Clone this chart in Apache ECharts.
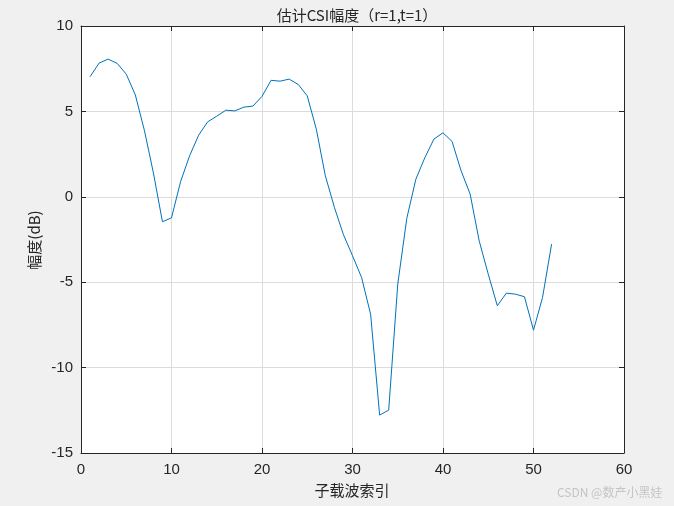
<!DOCTYPE html>
<html><head><meta charset="utf-8">
<script src="https://cdn.jsdelivr.net/npm/echarts@6/dist/echarts.min.js"></script>
<style>html,body{margin:0;padding:0;background:#f0f0f0}#c{width:674px;height:506px}</style>
</head><body><div id="c"></div>
<script>
const subcarriers = [1,2,3,4,5,6,7,8,9,10,11,12,13,14,15,16,17,18,19,20,21,22,23,24,25,26,27,28,29,30,31,32,33,34,35,36,37,38,39,40,41,42,43,44,45,46,47,48,49,50,51,52];
const amplitudeDb = [7.03,7.83,8.06,7.81,7.18,5.97,3.9,1.4,-1.46,-1.23,0.88,2.40,3.61,4.39,4.72,5.07,5.03,5.25,5.31,5.88,6.82,6.77,6.89,6.58,5.91,3.96,1.23,-0.62,-2.22,-3.45,-4.72,-6.87,-12.78,-12.49,-5.11,-1.26,1.03,2.30,3.38,3.75,3.24,1.52,0.16,-2.58,-4.53,-6.38,-5.64,-5.70,-5.85,-7.81,-5.89,-2.77];
const xTicks = [0,10,20,30,40,50,60];
const yTicks = [-15,-10,-5,0,5,10];
const titleText = '估计CSI幅度（r=1,t=1）';
const xLabel = '子载波索引';
const yLabel = '幅度(dB)';
const watermark = 'CSDN @数产小黑娃';

const chart = echarts.init(document.getElementById('c'));
const axisLine = {show:true, onZero:false, lineStyle:{color:'#262626', width:1}};
const tickIn = {show:true, inside:true, length:5, lineStyle:{color:'#262626'}};
const lblFont = {fontFamily:'Liberation Sans, Arial', fontSize:15, color:'#262626'};
chart.setOption({
  backgroundColor:'#f0f0f0',
  animation:false,
  title:{text:titleText, left:352, top:3, textAlign:'center',
    textStyle:{fontFamily:'Noto Sans CJK SC, Liberation Sans', fontSize:15, fontWeight:'normal', color:'#262626'}},
  grid:{left:81, right:50, top:26, bottom:53, show:true, backgroundColor:'#ffffff', borderWidth:0},
  graphic:[
    {type:'text', x:34, y:240, rotation:Math.PI/2,
     style:{text:yLabel, fill:'#262626', font:'15px "Noto Sans CJK SC"', textAlign:'center', textVerticalAlign:'middle'}},
    {type:'text', x:352, y:483, style:{text:xLabel, fill:'#262626', font:'15px "Noto Sans CJK SC"', textAlign:'center'}},
    {type:'text', x:557, y:486, style:{text:watermark, fill:'#c4c4c4', font:'12px "Noto Sans CJK SC"'}}
  ],
  xAxis:[
    {type:'value', min:0, max:60, interval:10, position:'bottom',
     axisLine:axisLine, axisTick:tickIn, axisLabel:Object.assign({margin:9, formatter:v=>xTicks.includes(v)?String(v):''}, lblFont),
     splitLine:{show:true, lineStyle:{color:'#dcdcdc', width:1}}},
    {type:'value', min:0, max:60, interval:10, position:'top',
     axisLine:axisLine, axisTick:tickIn, axisLabel:{show:false}, splitLine:{show:false}}
  ],
  yAxis:[
    {type:'value', min:-15, max:10, interval:5, position:'left',
     axisLine:axisLine, axisTick:tickIn, axisLabel:Object.assign({margin:8, formatter:v=>yTicks.includes(v)?String(v):''}, lblFont),
     splitLine:{show:true, lineStyle:{color:'#dcdcdc', width:1}}},
    {type:'value', min:-15, max:10, interval:5, position:'right',
     axisLine:axisLine, axisTick:tickIn, axisLabel:{show:false}, splitLine:{show:false}}
  ],
  series:[{type:'line', data:subcarriers.map((x,i)=>[x, amplitudeDb[i]]), showSymbol:false,
    lineStyle:{color:'#0072BD', width:1}, xAxisIndex:0, yAxisIndex:0}]
});
</script></body></html>
